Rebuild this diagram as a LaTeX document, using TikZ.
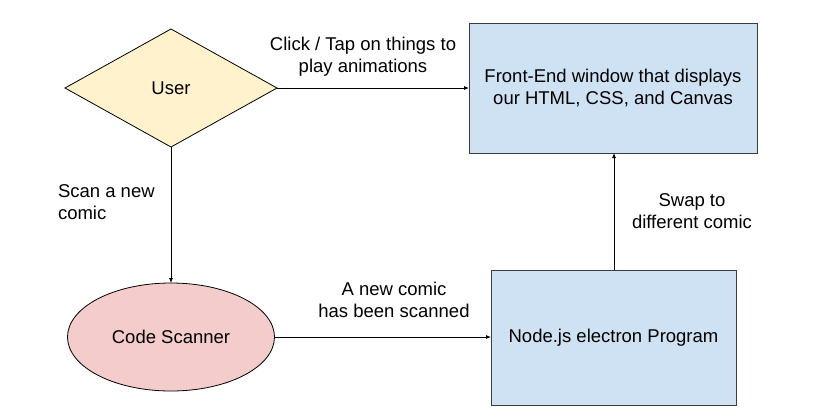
\documentclass[tikz,border=0pt]{standalone}
\usepackage{fontspec}
\setmainfont{Liberation Sans}
\usetikzlibrary{shapes.geometric,arrows.meta}
\definecolor{yel}{HTML}{FFF2CC}
\definecolor{pnk}{HTML}{F4CCCC}
\definecolor{blu}{HTML}{CFE2F3}
\definecolor{edge}{HTML}{3C3C3C}
\tikzset{
  every node/.style={font=\fontsize{18.5}{22}\selectfont, inner sep=0pt, outer sep=0pt},
  boxnode/.style={draw=edge, fill=blu, line width=1pt, rectangle, align=center},
  conn/.style={draw=black, line width=0.8pt, -{Latex[length=5pt,width=4pt]}},
  lbl/.style={align=center}
}
\begin{document}
\begin{tikzpicture}[x=1pt,y=-1pt]
\useasboundingbox (0,0) rectangle (818,416);
\fill[white] (0,0) rectangle (818,416);
\node[diamond, draw=black, fill=yel, line width=0.8pt, minimum width=212pt, minimum height=118pt, aspect=1.8] (user) at (171,88) {User};
\node[ellipse, draw=black, fill=pnk, line width=0.8pt, minimum width=207pt, minimum height=108pt] (scan) at (171,337) {Code Scanner};
\node[boxnode, minimum width=288pt, minimum height=130pt] (front) at (613,88) {Front-End window that displays\\our HTML, CSS, and Canvas};
\node[boxnode, minimum width=245pt, minimum height=135pt] (prog) at (613.5,337.5) {Node.js electron Program};
\draw[conn] (user.east) -- (front.west |- user.east);
\draw[conn] (user.south) -- (scan.north);
\draw[conn] (scan.east) -- (prog.west |- scan.east);
\coordinate (pt) at (614,270);
\draw[conn] (prog.north -| pt) -- (front.south -| pt);
\node[lbl] (l1) at (363,57) {Click / Tap on things to\\play animations};
\node[lbl, align=left, anchor=west] (l2) at (58,202) {Scan a new\\comic};
\node[lbl] (l3) at (394,300) {A new comic\\has been scanned};
\node[lbl] (l4) at (692,211) {Swap to\\different comic};
\end{tikzpicture}
\end{document}
